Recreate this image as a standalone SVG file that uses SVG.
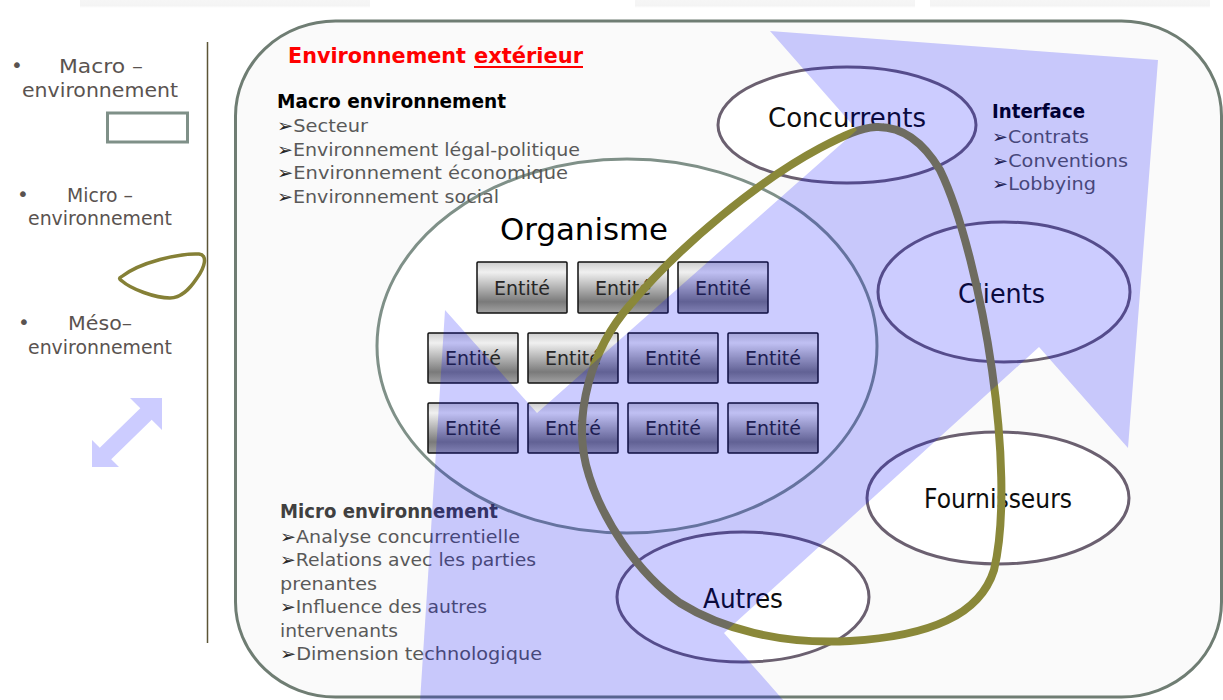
<svg xmlns="http://www.w3.org/2000/svg" width="1223" height="700" viewBox="0 0 1223 700">
  <defs>
    <linearGradient id="boxGrad" x1="0" y1="0" x2="0" y2="1">
      <stop offset="0" stop-color="#cdcdcd"/>
      <stop offset="0.2" stop-color="#f0f0f0"/>
      <stop offset="0.78" stop-color="#7a7a7a"/>
      <stop offset="1" stop-color="#a3a3a3"/>
    </linearGradient>
    <linearGradient id="topShade" x1="0" y1="0" x2="0" y2="1">
      <stop offset="0" stop-color="#f6f6f6"/>
      <stop offset="0.7" stop-color="#f4f4f4"/>
      <stop offset="1" stop-color="#ffffff"/>
    </linearGradient>
    <style>
      text { font-family: "DejaVu Sans", "Liberation Sans", sans-serif; }
      .leg { font-size: 20px; fill: #5a5350; }
      .title { font-size: 19px; font-weight: bold; fill: #000000; }
      .item { font-size: 18px; fill: #595959; }
      .bul { fill: #262626; }
      .node-label { font-size: 26px; fill: #0d0d0d; }
      .ent { font-size: 19px; fill: #262626; text-anchor: middle; }
      .box { fill: url(#boxGrad); stroke: #111111; stroke-width: 1.5; }
      .actor { fill: #ffffff; stroke: #6b6070; stroke-width: 3; }
    </style>
  </defs>

  <rect width="1223" height="700" fill="#ffffff"/>
  <g id="top-shades">
    <rect x="80" y="0" width="290" height="8" fill="url(#topShade)"/>
    <rect x="635" y="0" width="280" height="8" fill="url(#topShade)"/>
    <rect x="930" y="0" width="280" height="8" fill="url(#topShade)"/>
  </g>

  <!-- Legend -->
  <g id="legend">
    <g id="legend-macro">
      <text class="leg" x="11" y="72">•</text>
      <text class="leg" x="59" y="73" textLength="84" lengthAdjust="spacingAndGlyphs">Macro –</text>
      <text class="leg" x="22" y="97" textLength="156" lengthAdjust="spacingAndGlyphs">environnement</text>
      <rect x="107.5" y="113" width="80" height="29" fill="none" stroke="#7f9088" stroke-width="3"/>
    </g>
    <g id="legend-micro">
      <text class="leg" x="17" y="201">•</text>
      <text class="leg" x="67" y="202" textLength="66" lengthAdjust="spacingAndGlyphs">Micro –</text>
      <text class="leg" x="28" y="225" textLength="144" lengthAdjust="spacingAndGlyphs">environnement</text>
      <path d="M 121,277 C 140,262 180,253 199,254 C 208,255 205,267 197,278 C 189,290 181,298 170,298 C 155,298 131,289 122,281 C 119,279 119,278 121,277 Z" fill="none" stroke="#858036" stroke-width="3.5"/>
    </g>
    <g id="legend-meso">
      <text class="leg" x="18" y="329">•</text>
      <text class="leg" x="68" y="330" textLength="64" lengthAdjust="spacingAndGlyphs">Méso–</text>
      <text class="leg" x="28" y="354" textLength="144" lengthAdjust="spacingAndGlyphs">environnement</text>
      <polygon points="162,398 162,430 151.7,419.7 111.2,459.2 119,467 92,467 92,440 99.8,447.8 140.3,408.3 130,398" fill="#ccccff"/>
    </g>
    <line x1="207.5" y1="42" x2="207.5" y2="643" stroke="#5c5536" stroke-width="1.5"/>
  </g>

  <!-- Outer frame: environnement extérieur -->
  <g id="environnement-exterieur">
    <rect x="235.5" y="21" width="986" height="676" rx="100" ry="95" fill="#fafafa" stroke="#6f7d73" stroke-width="3"/>
    <text x="288" y="63" font-size="22" font-weight="bold" fill="#ff0000" textLength="178" lengthAdjust="spacingAndGlyphs">Environnement</text>
    <text x="474" y="63" font-size="22" font-weight="bold" fill="#ff0000" textLength="109" lengthAdjust="spacingAndGlyphs">extérieur</text>
    <rect x="474" y="66" width="109" height="2" fill="#ff0000"/>
  </g>

  <!-- Organisme -->
  <g id="organisme">
    <ellipse cx="627" cy="346" rx="250" ry="187" fill="#ffffff" stroke="#7f9088" stroke-width="3"/>
    <text x="500" y="240" font-size="31" fill="#000000" textLength="168" lengthAdjust="spacingAndGlyphs">Organisme</text>
  </g>

  <!-- Macro environnement text -->
  <g id="macro-environnement">
    <text class="title" x="277" y="108" textLength="229" lengthAdjust="spacingAndGlyphs">Macro environnement</text>
    <text class="item" x="277" y="132" textLength="91" lengthAdjust="spacingAndGlyphs"><tspan class="bul">➢</tspan>Secteur</text>
    <text class="item" x="277" y="155.5" textLength="303" lengthAdjust="spacingAndGlyphs"><tspan class="bul">➢</tspan>Environnement légal-politique</text>
    <text class="item" x="277" y="179" textLength="291" lengthAdjust="spacingAndGlyphs"><tspan class="bul">➢</tspan>Environnement économique</text>
    <text class="item" x="277" y="202.5" textLength="222" lengthAdjust="spacingAndGlyphs"><tspan class="bul">➢</tspan>Environnement social</text>
  </g>

  <!-- Micro environnement text -->
  <g id="micro-environnement">
    <text class="title" x="280" y="518" style="fill:#404040" textLength="218" lengthAdjust="spacingAndGlyphs">Micro environnement</text>
    <text class="item" x="280" y="542.5" textLength="240" lengthAdjust="spacingAndGlyphs"><tspan class="bul">➢</tspan>Analyse concurrentielle</text>
    <text class="item" x="280" y="566" textLength="256" lengthAdjust="spacingAndGlyphs"><tspan class="bul">➢</tspan>Relations avec les parties</text>
    <text class="item" x="280" y="589.5" textLength="97" lengthAdjust="spacingAndGlyphs">prenantes</text>
    <text class="item" x="280" y="613" textLength="207" lengthAdjust="spacingAndGlyphs"><tspan class="bul">➢</tspan>Influence des autres</text>
    <text class="item" x="280" y="636.5" textLength="118" lengthAdjust="spacingAndGlyphs">intervenants</text>
    <text class="item" x="280" y="660" textLength="262" lengthAdjust="spacingAndGlyphs"><tspan class="bul">➢</tspan>Dimension technologique</text>
  </g>

  <!-- Interface text -->
  <g id="interface">
    <text class="title" x="992" y="118" textLength="93" lengthAdjust="spacingAndGlyphs">Interface</text>
    <text class="item" x="992" y="143" textLength="97" lengthAdjust="spacingAndGlyphs"><tspan class="bul">➢</tspan>Contrats</text>
    <text class="item" x="992" y="166.5" textLength="136" lengthAdjust="spacingAndGlyphs"><tspan class="bul">➢</tspan>Conventions</text>
    <text class="item" x="992" y="190" textLength="104" lengthAdjust="spacingAndGlyphs"><tspan class="bul">➢</tspan>Lobbying</text>
  </g>

  <!-- Actors -->
  <g id="concurrents">
    <ellipse class="actor" cx="847" cy="125" rx="129" ry="58"/>
    <text class="node-label" x="768" y="127" textLength="158" lengthAdjust="spacingAndGlyphs">Concurrents</text>
  </g>
  <g id="clients">
    <ellipse class="actor" cx="1004" cy="292" rx="126" ry="70"/>
    <text class="node-label" x="958" y="303" textLength="87" lengthAdjust="spacingAndGlyphs">Clients</text>
  </g>
  <g id="fournisseurs">
    <ellipse class="actor" cx="998" cy="498" rx="131" ry="66"/>
    <text class="node-label" x="924" y="508" textLength="148" lengthAdjust="spacingAndGlyphs">Fournisseurs</text>
  </g>
  <g id="autres">
    <ellipse class="actor" cx="743" cy="597" rx="126" ry="65"/>
    <text class="node-label" x="703" y="608" textLength="80" lengthAdjust="spacingAndGlyphs">Autres</text>
  </g>

  <!-- Entités -->
  <g id="entites">
    <g id="entite-1-1"><rect class="box" x="477" y="262" width="90" height="51" rx="1"/><text class="ent" x="522" y="295">Entité</text></g>
    <g id="entite-1-2"><rect class="box" x="578" y="262" width="90" height="51" rx="1"/><text class="ent" x="623" y="295">Entité</text></g>
    <g id="entite-1-3"><rect class="box" x="678" y="262" width="90" height="51" rx="1"/><text class="ent" x="723" y="295">Entité</text></g>
    <g id="entite-2-1"><rect class="box" x="428" y="333" width="90" height="50" rx="1"/><text class="ent" x="473" y="365">Entité</text></g>
    <g id="entite-2-2"><rect class="box" x="528" y="333" width="90" height="50" rx="1"/><text class="ent" x="573" y="365">Entité</text></g>
    <g id="entite-2-3"><rect class="box" x="628" y="333" width="90" height="50" rx="1"/><text class="ent" x="673" y="365">Entité</text></g>
    <g id="entite-2-4"><rect class="box" x="728" y="333" width="90" height="50" rx="1"/><text class="ent" x="773" y="365">Entité</text></g>
    <g id="entite-3-1"><rect class="box" x="428" y="403" width="90" height="50" rx="1"/><text class="ent" x="473" y="435">Entité</text></g>
    <g id="entite-3-2"><rect class="box" x="528" y="403" width="90" height="50" rx="1"/><text class="ent" x="573" y="435">Entité</text></g>
    <g id="entite-3-3"><rect class="box" x="628" y="403" width="90" height="50" rx="1"/><text class="ent" x="673" y="435">Entité</text></g>
    <g id="entite-3-4"><rect class="box" x="728" y="403" width="90" height="50" rx="1"/><text class="ent" x="773" y="435">Entité</text></g>
  </g>

  <!-- Connectors: méso loop and macro double arrow -->
  <g id="connectors">
    <path id="meso-loop" d="M 876,127 C 905,126 925,145 940,170 C 962,215 982,300 992,370 C 1002,440 1006,520 994,570 C 980,615 930,636 850,641 C 780,645 720,628 680,603 C 640,575 600,520 586,465 C 574,415 590,350 630,305 C 680,245 760,180 820,148 C 845,135 860,128 876,127 Z" fill="none" stroke="#8a8839" stroke-width="8"/>
    <polygon id="macro-arrow" points="1158,60 1128,448 1039,347 724,633 814,735 420,702 445,310 537,413 857,130 770,31" fill="#0000ff" fill-opacity="0.2"/>
  </g>
</svg>
